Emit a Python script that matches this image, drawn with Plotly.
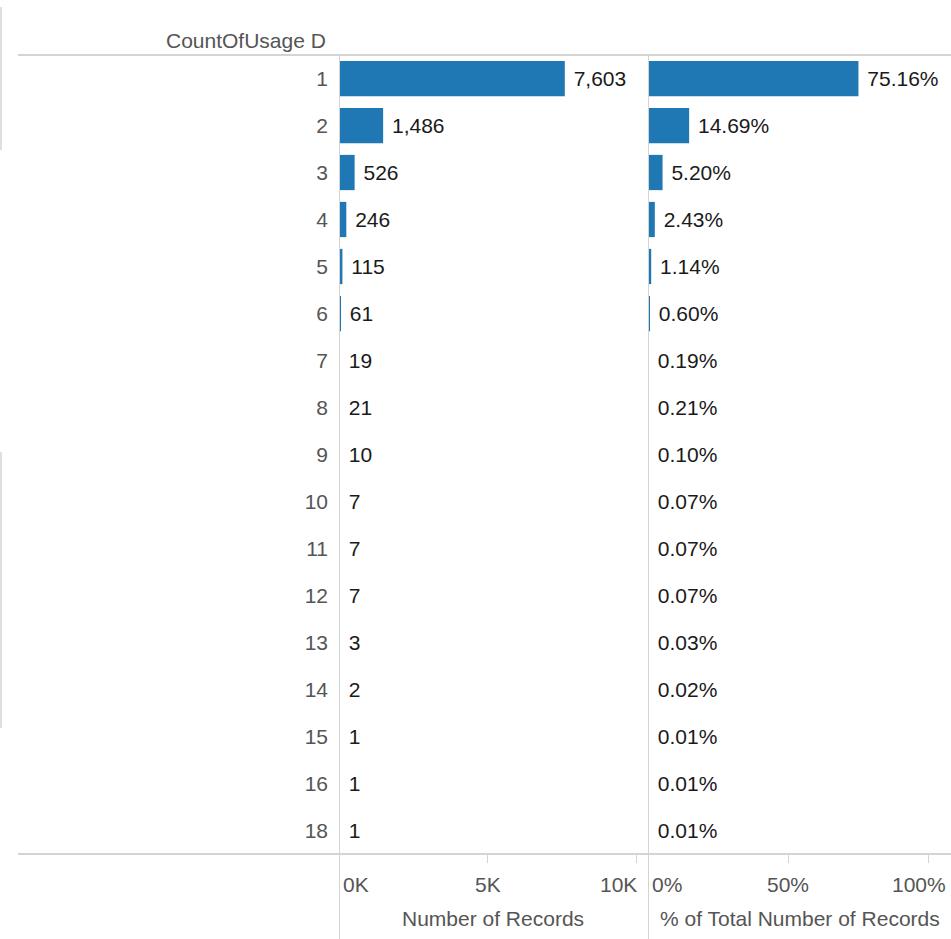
import plotly.graph_objects as go

W, H = 951, 939

# data
usage_counts = ["1", "2", "3", "4", "5", "6", "7", "8", "9", "10", "11", "12", "13", "14", "15", "16", "18"]
num_records = [7603, 1486, 526, 246, 115, 61, 19, 21, 10, 7, 7, 7, 3, 2, 1, 1, 1]
pct_records = [75.16, 14.69, 5.20, 2.43, 1.14, 0.60, 0.19, 0.21, 0.10, 0.07, 0.07, 0.07, 0.03, 0.02, 0.01, 0.01, 0.01]

left_ticks = [0, 5000, 10000]
left_ticktext = ["0K", "5K", "10K"]
right_ticks = [0, 50, 100]
right_ticktext = ["0%", "50%", "100%"]

FONT = "Liberation Sans, Arial, sans-serif"
FS = 21
BLUE = "#1f77b4"
GRID = "#d4d4d4"
NB = "\u00a0"


def px_x(p):
    return p / W


def px_y(p):
    return 1 - p / H


y_dom = [px_y(854), px_y(55)]

fig = go.Figure()
fig.add_trace(go.Bar(
    x=num_records, y=usage_counts, orientation="h",
    marker=dict(color=BLUE, line=dict(width=0)), width=0.75,
    text=[NB + f"{v:,}" for v in num_records], textposition="outside",
    textfont=dict(family=FONT, size=FS, color="#1a1a1a"),
    constraintext="none", cliponaxis=False,
    xaxis="x", yaxis="y", showlegend=False, hoverinfo="skip",
))
fig.add_trace(go.Bar(
    x=pct_records, y=usage_counts, orientation="h",
    marker=dict(color=BLUE, line=dict(width=0)), width=0.75,
    text=[NB + f"{v:.2f}%" for v in pct_records], textposition="outside",
    textfont=dict(family=FONT, size=FS, color="#1a1a1a"),
    constraintext="none", cliponaxis=False,
    xaxis="x2", yaxis="y", showlegend=False, hoverinfo="skip",
))

axis_common = dict(
    showgrid=False, zeroline=False, showline=False,
    ticks="outside", ticklen=8, tickcolor=GRID, showticklabels=False,
)
fig.update_layout(
    width=W, height=H,
    margin=dict(l=0, r=0, t=0, b=0),
    paper_bgcolor="white", plot_bgcolor="white",
    font=dict(family=FONT, size=FS, color="#555"),
    xaxis=dict(domain=[px_x(339), px_x(636)], range=[0, 10000], tickvals=left_ticks, anchor="y", **axis_common),
    xaxis2=dict(domain=[px_x(648), px_x(928)], range=[0, 100], tickvals=right_ticks, anchor="y", **axis_common),
    yaxis=dict(
        domain=y_dom, type="category", categoryorder="array", categoryarray=usage_counts,
        range=[len(usage_counts) - 0.5, -0.5], showgrid=False, zeroline=False, showline=False,
        ticks="", ticklabelstandoff=10, tickfont=dict(family=FONT, size=FS, color="#555"),
    ),
)

shapes = [
    # header and footer rules
    dict(type="line", xref="paper", yref="paper", x0=px_x(18), x1=1, y0=y_dom[1], y1=y_dom[1], line=dict(color=GRID, width=2)),
    dict(type="line", xref="paper", yref="paper", x0=px_x(18), x1=1, y0=y_dom[0], y1=y_dom[0], line=dict(color=GRID, width=2)),
    # pane dividers
    dict(type="line", xref="x", yref="paper", x0=0, x1=0, y0=0, y1=y_dom[1], line=dict(color=GRID, width=2)),
    dict(type="line", xref="x2", yref="paper", x0=0, x1=0, y0=0, y1=y_dom[1], line=dict(color=GRID, width=2)),
    # faint window edges on the left
    dict(type="line", xref="paper", yref="paper", x0=px_x(1), x1=px_x(1), y0=px_y(150), y1=px_y(7), line=dict(color=GRID, width=1.5)),
    dict(type="line", xref="paper", yref="paper", x0=px_x(1), x1=px_x(1), y0=px_y(728), y1=px_y(452), line=dict(color=GRID, width=1.5)),
]
fig.update_layout(shapes=shapes)

ann = []
tick_y = px_y(884)
for v, t, a, s in zip(left_ticks, left_ticktext, ["left", "center", "right"], [2, 0, 3]):
    ann.append(dict(x=v, y=tick_y, xref="x", yref="paper", text=t, showarrow=False,
                    xanchor=a, yanchor="middle", xshift=s, font=dict(family=FONT, size=FS, color="#555")))
for v, t, a, s in zip(right_ticks, right_ticktext, ["left", "center", "right"], [2, 0, 20]):
    ann.append(dict(x=v, y=tick_y, xref="x2", yref="paper", text=t, showarrow=False,
                    xanchor=a, yanchor="middle", xshift=s, font=dict(family=FONT, size=FS, color="#555")))
ann.append(dict(x=px_x(493), y=px_y(918), xref="paper", yref="paper", text="Number of Records",
                showarrow=False, xanchor="center", yanchor="middle", font=dict(family=FONT, size=FS, color="#555")))
ann.append(dict(x=px_x(800), y=px_y(918), xref="paper", yref="paper", text="% of Total Number of Records",
                showarrow=False, xanchor="center", yanchor="middle", font=dict(family=FONT, size=FS, color="#555")))
ann.append(dict(x=px_x(328), y=px_y(40), xref="paper", yref="paper", text="CountOfUsage D",
                showarrow=False, xanchor="right", yanchor="middle", font=dict(family=FONT, size=FS, color="#555")))
fig.update_layout(annotations=ann)

# page body has a default 8px margin; drop it so the figure fills the window
fig.write_html("out.html", config={"displayModeBar": False},
               post_script="document.body.style.margin='0';")
